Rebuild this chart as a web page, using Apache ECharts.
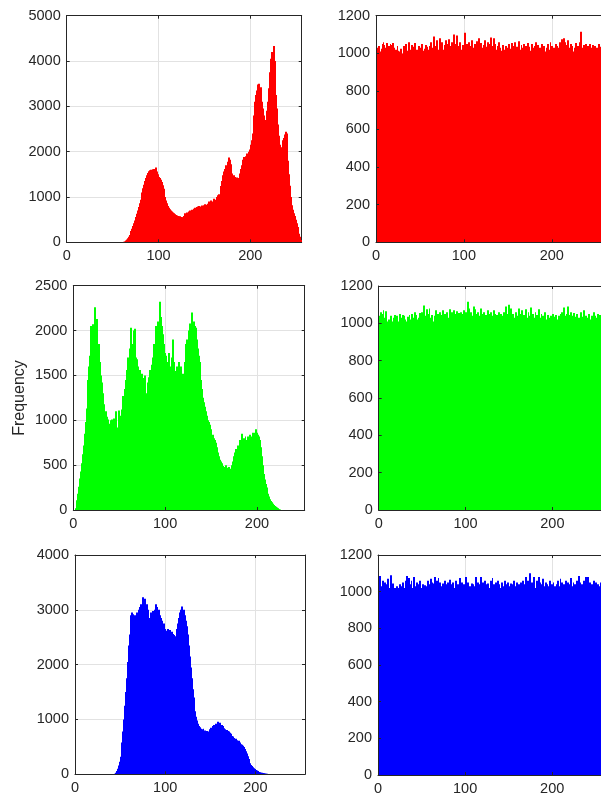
<!DOCTYPE html>
<html>
<head>
<meta charset="utf-8">
<script src="https://cdn.jsdelivr.net/npm/echarts@6/dist/echarts.min.js"></script>
<style>html,body{margin:0;padding:0;background:#fff}#c{width:601px;height:798px}</style>
</head>
<body>
<div id="c"></div>
<script>
// ---- data (bin counts for intensity 0..255) ----
var redOriginal = [
0,0,0,0,0,0,0,0,0,0,0,0,0,0,0,0,
0,0,0,0,0,0,0,0,0,0,0,0,0,0,0,0,
0,0,0,0,0,0,0,0,0,0,0,0,0,0,0,0,
0,0,0,0,0,0,0,0,0,0,0,0,0,0,10,20,
40,60,90,120,160,200,250,300,360,420,480,560,630,700,780,860,
940,1020,1100,1190,1270,1350,1420,1480,1530,1570,1590,1600,1580,1610,1590,1620,
1570,1650,1560,1500,1440,1420,1380,1330,1260,1180,1090,1000,920,860,800,760,
730,700,680,660,640,620,610,600,590,580,570,575,560,555,550,580,
640,600,620,660,640,680,700,690,720,710,740,760,750,780,770,790,
800,780,790,810,800,820,840,830,820,850,880,900,880,920,900,890,
960,920,940,1000,1040,1060,1020,1100,1240,1350,1480,1560,1620,1700,1680,1780,
1870,1820,1720,1600,1520,1460,1480,1440,1400,1430,1420,1400,1520,1620,1700,1760,
1820,1880,1850,1900,1960,1920,2000,2050,2150,2250,2400,2550,2800,3100,3250,3350,
3480,3500,3300,3420,3100,2950,2800,2700,2650,2700,2900,3100,3400,3750,4050,4200,
4050,4330,4000,3600,3250,2950,2600,2350,2150,2050,2100,2250,2300,2380,2440,2400,
2100,1800,1500,1250,1000,820,720,640,580,500,420,340,270,190,120,50
];
var redEncrypted = [
1020,1030,1015,1040,1010,965,1025,1050,1060,1045,1030,1000,1055,1020,1040,1035,
1050,1010,1045,1055,1030,985,1020,1000,1040,1015,980,1010,1025,990,1000,1040,
1005,1030,1050,1015,990,1060,1020,1000,1045,1010,985,1035,1055,1000,1020,990,
1040,1010,1000,1030,1050,1015,990,1025,1045,1010,1035,1000,1020,1040,1060,1015,
1030,1090,1050,1040,1000,1070,1020,1010,1080,1050,1030,1060,940,1020,1045,1070,
1000,1050,1030,1075,1010,1040,1060,1025,1100,1000,1050,1030,1095,1040,1010,1060,
975,1020,1045,1000,1030,1110,980,1050,1020,1060,990,1040,1015,1070,1030,1000,
1050,1025,1065,1005,1040,1080,1010,1055,1030,990,1045,1015,1070,1035,1000,1060,
1020,1050,1085,1040,1010,1030,1080,1050,1020,990,1040,1060,1005,1030,1015,985,
1045,1020,1000,1040,990,1030,1010,1050,1025,995,1055,1020,1040,1000,1060,1015,
1035,1000,1065,1020,990,1045,1010,1030,1050,1005,1040,1020,1055,1000,1035,1015,
990,1050,1030,1010,1040,1020,1060,1000,1045,985,1030,1015,1050,1000,1025,1040,
1010,990,1030,1050,1020,910,1060,1000,1040,1015,1030,1000,1050,1020,1040,1005,
1030,1060,1015,1075,1040,1080,1010,1060,1045,1000,1070,1030,950,1050,1020,1040,
1010,945,1030,1055,1000,1040,1020,1010,1060,1115,1030,1000,1045,1020,1050,1010,
980,1040,1020,1050,1000,1030,1045,1010,1025,1040,1000,1030,1015,1050,1020,1035
];
var greenOriginal = [
0,0,20,60,110,180,260,350,430,520,620,720,850,980,1130,1300,
1450,1600,1720,2050,1800,2070,1950,2260,2000,2130,1780,1850,1700,1650,1500,1420,
1300,1180,1080,1100,1040,1010,960,940,1000,920,1010,950,1020,900,1100,920,
870,1110,960,1050,1000,1120,1270,1250,1350,1450,1560,1700,1650,1800,2030,1850,
1700,1750,2000,2020,1700,1680,1600,1500,1560,1480,1520,1450,1470,1380,1500,1300,
1280,1420,1480,1560,1500,1620,1700,1850,1800,1900,2050,1880,2100,1980,2320,2150,
2050,1960,1850,1750,1680,1720,1650,1600,1750,1550,1600,1700,1900,1650,1500,1550,
1600,1480,1580,1650,1500,1600,1450,1520,1480,1650,1850,1900,1800,2000,1950,2080,
2000,2200,1950,2100,2050,2030,1900,1800,1720,1650,1600,1450,1350,1250,1200,1150,
1100,1050,1000,980,950,900,860,820,840,800,780,750,700,640,600,560,
540,520,500,490,480,460,500,470,440,480,460,440,500,540,560,600,
640,680,660,720,700,780,740,850,760,800,740,820,780,760,820,800,
840,820,800,860,830,860,900,880,860,840,820,780,700,600,500,400,
340,290,250,220,180,150,120,100,85,70,56,45,36,28,20,14,
9,5,0,0,0,0,0,0,0,0,0,0,0,0,0,0,
0,0,0,0,0,0,0,0,0,0,0,0,0,0,0,0
];
var greenEncrypted = [
1040,1020,1060,1000,1050,1070,990,1030,1065,1010,985,1020,1000,995,1040,1010,
990,1030,1045,1000,1020,1040,985,1010,1050,995,1030,1045,1000,1040,1020,990,
1010,1035,1000,1045,1020,990,1050,1010,1030,1060,1000,1045,1020,1000,1030,1055,
1010,1060,1030,1000,1095,1020,1040,1075,1005,1050,1080,1030,1000,1045,1010,980,
1040,1070,1020,1000,1050,1030,1060,1010,1045,1000,1070,1025,1050,1010,1060,1030,
1000,1045,1075,1020,1060,1030,1070,1010,1050,1040,1065,1000,1055,1030,1060,1040,
1050,1010,1070,1035,1060,1020,1115,1050,1080,1030,1060,950,1040,1090,1020,1075,
1050,1030,1060,1010,1040,1080,1000,1050,1030,1060,1020,1045,1005,1070,1030,1050,
1015,1060,1040,1000,1070,1030,1050,1010,1045,990,1060,1025,1050,1005,1040,1030,
1060,1020,1090,1010,1050,1030,1100,1040,1080,1000,1050,1030,985,1020,1060,1010,
1040,1080,1000,1050,1025,1070,990,1045,1010,1075,1030,1000,1060,1020,1040,1085,
1010,1050,970,1030,1060,1000,1045,1010,1075,960,1030,1050,1000,1040,1015,1060,
1020,990,1045,1010,1030,975,1040,1020,1050,1000,1035,1010,1045,980,1020,1040,
1000,1050,1030,1060,1010,1085,1040,1020,1050,1090,1030,1000,1045,1060,1010,1040,
1055,1000,1035,1020,1050,920,1030,1010,1060,1045,1000,1035,1070,1020,1040,990,
1030,1010,1050,1020,1000,1040,1025,1060,1010,1040,1000,1030,1050,1020,1045,1010
];
var blueOriginal = [
0,0,0,0,0,0,0,0,0,0,0,0,0,0,0,0,
0,0,0,0,0,0,0,0,0,0,0,0,0,0,0,0,
0,0,0,0,0,0,0,0,0,0,0,0,10,30,60,100,
160,230,320,430,580,780,1000,1250,1500,1750,2050,2350,2550,2700,2900,2950,
2920,2880,2900,2860,2950,2900,3000,2980,3050,3100,3000,3230,3180,3200,3050,3100,
3000,2900,2850,2800,2950,2900,2980,2940,3000,3100,3050,3000,2950,3000,2900,2850,
2800,2700,2750,2650,2600,2620,2580,2650,2600,2630,2580,2600,2560,2540,2520,2500,
2550,2650,2750,2850,2950,3000,3060,2980,3000,2900,2850,2800,2700,2550,2350,2150,
1950,1750,1550,1400,1280,1150,1050,980,920,880,860,830,820,800,830,790,
800,780,790,760,780,820,850,800,880,860,900,880,920,900,960,900,
940,880,900,860,880,840,820,800,810,790,780,760,740,720,700,690,
660,640,650,620,600,610,580,560,550,540,520,500,460,420,380,330,
280,240,200,170,150,130,110,95,80,70,60,50,42,36,30,26,
22,18,15,12,10,7,5,3,0,0,0,0,0,0,0,0,
0,0,0,0,0,0,0,0,0,0,0,0,0,0,0,0,
0,0,0,0,0,0,0,0,0,0,0,0,0,0,0,0
];
var blueEncrypted = [
1050,950,1085,1000,1030,1060,950,1010,1050,1000,1040,1070,990,1020,1090,1010,
1000,1045,960,1020,1010,1030,1000,1020,1010,1040,1000,1030,1050,990,1020,1060,
1010,1085,1030,1075,1000,1040,1060,1000,1020,1080,1030,1010,1050,990,1040,1000,
1060,1020,1000,1040,1010,1035,1020,950,1030,1060,1010,1040,1070,1020,1050,1010,
1045,1080,1020,1060,1030,1075,1010,1050,1030,1000,1045,1020,1060,1010,1040,980,
1050,1020,1065,1000,1040,1030,1050,990,1020,1060,1010,1040,1000,1030,1075,1010,
1050,1020,1040,1000,1035,1080,1010,1050,1000,1030,1020,1045,1000,1040,1010,1030,
1080,1010,1050,1020,1040,1000,1080,1030,1050,1010,1060,1020,1040,1000,1045,980,
1020,1060,1030,1075,1010,1040,1000,1050,1030,1060,1010,1040,1020,1000,1050,1030,
1010,1060,1020,1040,1000,1050,1030,1010,1045,1000,1040,1020,1060,1000,1030,1050,
1010,1040,1020,1000,1050,1030,1060,1010,1040,1080,1020,920,1060,1040,1100,1030,
1050,1010,1040,1080,1020,1000,1060,1030,1080,1010,1050,1000,1040,1070,990,1030,
1050,1010,1040,1000,1030,1060,1010,1040,1020,1050,990,1030,1010,1040,1060,1000,
1030,1070,1010,1050,960,1040,1020,1060,1000,1030,1050,1010,1040,1075,1000,1030,
1050,1010,1040,1020,1060,1000,1085,1030,1050,1010,1040,1020,1060,1000,1080,1010,
1040,1080,1000,1050,1020,1040,1010,1060,1030,1000,1050,1020,1040,1010,1030,1050
];
var yMaxLeft = [5000, 2500, 4000];
var yIntLeft = [1000, 500, 1000];
var yMaxRight = [1200, 1200, 1200];
var yIntRight = [200, 200, 200];
var xMaxLeft = [256, 252, 255];
var xMaxRight = [256, 256, 256];
var xInterval = 100;
var yLabel = 'Frequency';

// ---- layout ----
var panels = [
  {data: redOriginal,   color: '#ff0000', g: {left: 66.7, top: 15.7, width: 235,   height: 226.6}, xmax: xMaxLeft[0],  ymax: yMaxLeft[0],  yint: yIntLeft[0]},
  {data: redEncrypted,  color: '#ff0000', g: {left: 376,  top: 15.7, width: 236.3, height: 226.6}, xmax: xMaxRight[0], ymax: yMaxRight[0], yint: yIntRight[0]},
  {data: greenOriginal, color: '#00ff00', g: {left: 73.3, top: 285.7, width: 231.4, height: 224.3}, xmax: xMaxLeft[1],  ymax: yMaxLeft[1],  yint: yIntLeft[1]},
  {data: greenEncrypted,color: '#00ff00', g: {left: 378.7,top: 286,  width: 232.2, height: 224},   xmax: xMaxRight[1], ymax: yMaxRight[1], yint: yIntRight[1]},
  {data: blueOriginal,  color: '#0000ff', g: {left: 75,   top: 555,  width: 230,   height: 219.3}, xmax: xMaxLeft[2],  ymax: yMaxLeft[2],  yint: yIntLeft[2]},
  {data: blueEncrypted, color: '#0000ff', g: {left: 378,  top: 555,  width: 231,   height: 220},   xmax: xMaxRight[2], ymax: yMaxRight[2], yint: yIntRight[2]}
];

var FONT = 'Liberation Sans, Arial, Helvetica, sans-serif';
var TXT = '#262626';
var GRIDC = '#e2e2e2';

var grids = [], xAxes = [], yAxes = [], series = [];
panels.forEach(function (p, k) {
  grids.push({left: p.g.left, top: p.g.top, width: p.g.width, height: p.g.height,
    show: false, containLabel: false});
  var fmtX = function (v) { return (v % xInterval === 0) ? String(v) : ''; };
  var fmtY = function (int) { return function (v) { return (v % int === 0) ? String(v) : ''; }; };
  xAxes.push({type: 'value', gridIndex: k, min: 0, max: p.xmax, interval: xInterval, position: 'bottom',
    axisLine: {show: true, onZero: false, lineStyle: {color: TXT, width: 1}},
    axisTick: {show: true, inside: true, length: 3, lineStyle: {color: TXT}},
    axisLabel: {color: TXT, fontSize: 14.5, fontFamily: FONT, margin: 6, formatter: fmtX, showMaxLabel: false},
    splitLine: {show: false}, z: 5});
  xAxes.push({type: 'value', gridIndex: k, min: 0, max: p.xmax, interval: xInterval, position: 'top',
    axisLine: {show: true, onZero: false, lineStyle: {color: TXT, width: 1}},
    axisTick: {show: true, inside: true, length: 3, lineStyle: {color: TXT}},
    axisLabel: {show: false}, splitLine: {show: true, lineStyle: {color: GRIDC, width: 1}}, z: 0});
  yAxes.push({type: 'value', gridIndex: k, min: 0, max: p.ymax, interval: p.yint, position: 'left',
    axisLine: {show: true, onZero: false, lineStyle: {color: TXT, width: 1}},
    axisTick: {show: true, inside: true, length: 3, lineStyle: {color: TXT}},
    axisLabel: {color: TXT, fontSize: 14.5, fontFamily: FONT, margin: 6, formatter: fmtY(p.yint)},
    splitLine: {show: false}, z: 5});
  yAxes.push({type: 'value', gridIndex: k, min: 0, max: p.ymax, interval: p.yint, position: 'right',
    axisLine: {show: true, onZero: false, lineStyle: {color: TXT, width: 1}},
    axisTick: {show: true, inside: true, length: 3, lineStyle: {color: TXT}},
    axisLabel: {show: false}, splitLine: {show: true, lineStyle: {color: GRIDC, width: 1}}, z: 0});
  (function (color) {
    series.push({
      type: 'custom', coordinateSystem: 'cartesian2d',
      xAxisIndex: 2 * k, yAxisIndex: 2 * k, z: 2, silent: true,
      data: p.data.map(function (v, i) { return [i, v]; }),
      renderItem: function (params, api) {
        var x0 = api.value(0), v = api.value(1);
        if (!v) return null;
        var a = api.coord([x0, v]);
        var b = api.coord([x0 + 1, 0]);
        var xl = Math.floor(a[0]), xr = Math.ceil(b[0]);
        return {type: 'rect', shape: {x: xl, y: a[1], width: xr - xl, height: b[1] - a[1]},
          style: {fill: color}};
      }
    });
  })(p.color);
});

var chart = echarts.init(document.getElementById('c'), null, {renderer: 'canvas'});
chart.setOption({
  animation: false,
  backgroundColor: '#ffffff',
  grid: grids, xAxis: xAxes, yAxis: yAxes, series: series,
  graphic: [{type: 'text', x: 20, y: 398, rotation: Math.PI / 2,
    style: {text: yLabel, fill: TXT, font: '16px ' + FONT, align: 'center', verticalAlign: 'middle'}}]
});
</script>
</body>
</html>
